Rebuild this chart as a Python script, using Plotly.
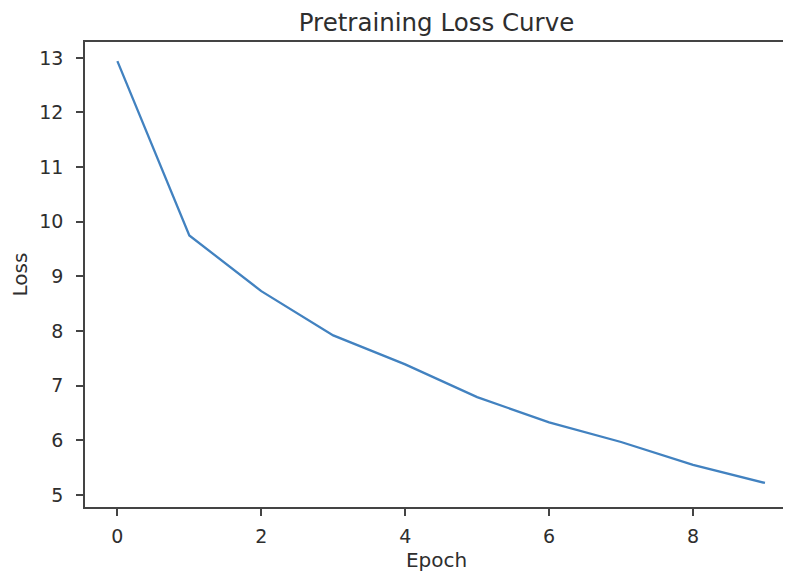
import plotly.graph_objects as go

epochs = [0, 1, 2, 3, 4, 5, 6, 7, 8, 9]
loss = [12.94, 9.75, 8.73, 7.92, 7.39, 6.79, 6.33, 5.97, 5.55, 5.22]
y_ticks = [5, 6, 7, 8, 9, 10, 11, 12, 13]
x_ticks = [0, 2, 4, 6, 8]

FONT = "DejaVu Sans"
TXT = "#2e2e2e"

fig = go.Figure()
fig.add_trace(go.Scatter(x=epochs, y=loss, mode="lines",
                         line=dict(color="#4282c0", width=2.3)))

# page body has an 8px default margin, so the figure is shrunk by 8px
fig.update_layout(
    width=783, height=565,
    margin=dict(l=77, r=3, t=34, b=66),
    paper_bgcolor="white", plot_bgcolor="white",
    showlegend=False,
    font=dict(family=FONT, color=TXT, size=19),
    title=dict(text="Pretraining Loss Curve", x=0.5, xanchor="center",
               xref="paper", y=0.974, yanchor="middle",
               font=dict(family=FONT, size=24.5, color=TXT)),
)
axis_common = dict(showgrid=False, zeroline=False, showline=True,
                   linecolor="#444", linewidth=1.6, mirror=True,
                   ticks="outside", ticklen=7, tickwidth=1.5, tickcolor="#444",
                   automargin=False,
                   tickfont=dict(family=FONT, size=19, color=TXT))
fig.update_xaxes(range=[-0.45, 9.32], tickvals=x_ticks,
                 ticktext=[str(v) for v in x_ticks], ticklabelstandoff=4,
                 title=dict(text="Epoch", font=dict(family=FONT, size=20, color=TXT), standoff=7),
                 **axis_common)
fig.update_yaxes(range=[4.78, 13.29], tickvals=y_ticks,
                 ticktext=[str(v) for v in y_ticks], ticklabelstandoff=9,
                 title=dict(text="Loss", font=dict(family=FONT, size=20, color=TXT), standoff=10),
                 **axis_common)

fig.write_html("out.html")
